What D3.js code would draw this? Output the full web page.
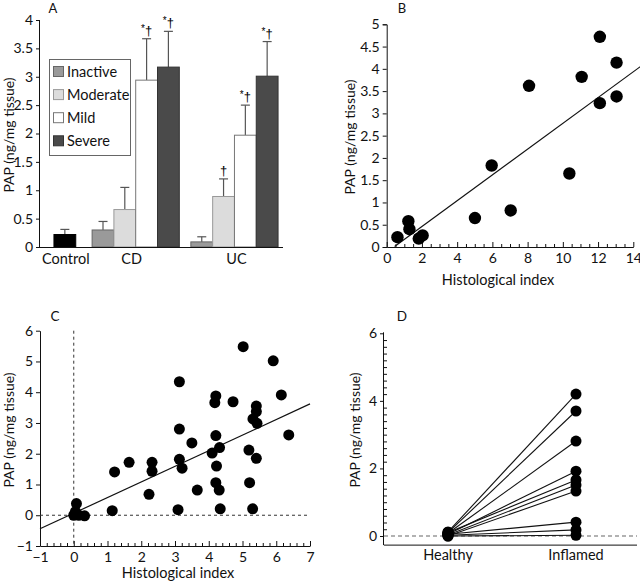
<!DOCTYPE html>
<html><head><meta charset="utf-8">
<script src="https://cdn.jsdelivr.net/npm/d3@7"></script>
<style>
body{margin:0;background:#fff;}
svg{display:block;font-family:Lato,"Open Sans",sans-serif;}
.axis text{font-size:14px;fill:#111;font-family:Lato,"Open Sans",sans-serif;}
.axis path,.axis line{stroke:#111;stroke-width:1;}
</style></head><body>
<svg id="c" width="640" height="582"></svg>
<script>
// ---------- data ----------
// Panel A
const aLevels = ["Inactive","Moderate","Mild","Severe"];
const aGroups = ["Control","CD","UC"];
const ctrlMean = [0.22];
const ctrlSem = [0.09];
const cdMean = [0.30, 0.66, 2.94, 3.17];
const cdSem  = [0.15, 0.39, 0.73, 0.63];
const ucMean = [0.09, 0.89, 1.97, 3.01];
const ucSem  = [0.09, 0.31, 0.53, 0.61];
const cdMarks = ["", "", "*†", "*†"];
const ucMarks = ["", "†", "*†", "*†"];
const aTicks = [0,0.5,1,1.5,2,2.5,3,3.5,4];
// Panel B
const bX = [0.61,1.23,1.29,1.82,2.04,5.01,5.96,7.04,8.08,10.37,11.07,12.1,12.1,13.05,13.05];
const bY = [0.22,0.58,0.40,0.19,0.26,0.65,1.83,0.82,3.62,1.65,3.82,4.72,3.23,4.14,3.38];
const bFitX = [0.45, 14.4];
const bFitY = [0.01, 4.05];
const bXTicks = [0,2,4,6,8,10,12,14];
const bYTicks = [0,0.5,1,1.5,2,2.5,3,3.5,4,4.5,5];
// Panel C
const cX = [0,0.05,0.15,0.32,0.08,1.14,1.21,1.64,2.23,2.32,2.32,3.09,3.13,3.13,3.13,3.21,3.50,3.66,4.10,4.21,4.21,4.18,4.23,4.21,4.31,4.32,4.34,4.72,5.02,5.19,5.21,5.30,5.31,5.41,5.41,5.43,5.41,5.91,6.15,6.37];
const cY = [0,0.12,0,-0.02,0.38,0.15,1.41,1.72,0.68,1.72,1.43,0.18,4.34,2.80,1.82,1.53,2.35,0.82,2.02,2.59,3.88,3.66,1.60,1.06,0.82,2.20,0.21,3.69,5.48,2.12,1.06,0.21,3.13,3.55,3.37,2.99,1.85,5.02,3.91,2.61];
const cFitX = [-1, 7];
const cFitY = [-0.44, 3.62];
const cXTicks = [-1,0,1,2,3,4,5,6,7];
const cYTicks = [-1,0,1,2,3,4,5,6];
// Panel D
const dCats = ["Healthy","Inflamed"];
const dHealthy  = [0.12,0.10,0.08,0.05,0.10,0.03,0.00,0.05,0.02,0.00];
const dInflamed = [4.20,3.70,2.81,1.92,1.66,1.51,1.33,0.41,0.18,0.02];
const dYTicks = [0,2,4,6];

const yTitle = "PAP (ng/mg tissue)";
const xTitle = "Histological index";

// ---------- drawing ----------
const svg = d3.select("#c");
const FONT = 14.5;

function label(x,y,t,anchor="middle",size=FONT){
  return svg.append("text").attr("x",x).attr("y",y).attr("text-anchor",anchor)
    .attr("font-size",size).attr("fill","#111").text(t);
}
function yLabel(x,y,t){
  svg.append("text").attr("transform",`translate(${x},${y}) rotate(-90)`)
    .attr("text-anchor","middle").attr("font-size",14).attr("fill","#111").text(t);
}
function range(a,b,s){const r=[];for(let v=a;v<=b+1e-9;v+=s)r.push(+v.toFixed(4));return r;}

// ===== Panel A =====
{
  const y = d3.scaleLinear().domain([0,4]).range([247,20]);
  const bw = 21.8;
  const x = d3.scaleLinear().domain([0,1]).range([40, 40+bw]); // bar-width units
  const fills = ["#9a9a9a","#dcdcdc","#ffffff","#4a4a4a"];
  const strokes = ["#666","#999","#777","#333"];
  const bars = [];
  bars.push({s:0.64, v:ctrlMean[0], e:ctrlSem[0], fill:"#000", stroke:"#000", m:""});
  cdMean.forEach((v,i)=>bars.push({s:2.39+i, v, e:cdSem[i], fill:fills[i], stroke:strokes[i], m:cdMarks[i]}));
  ucMean.forEach((v,i)=>bars.push({s:6.92+i, v, e:ucSem[i], fill:fills[i], stroke:strokes[i], m:ucMarks[i]}));
  const g = svg.append("g");
  bars.forEach(b=>{
    const cx = x(b.s+0.5);
    g.append("line").attr("x1",cx).attr("x2",cx).attr("y1",y(b.v)).attr("y2",y(b.v+b.e))
      .attr("stroke","#555").attr("stroke-width",1.2);
    g.append("line").attr("x1",cx-4.5).attr("x2",cx+4.5).attr("y1",y(b.v+b.e)).attr("y2",y(b.v+b.e))
      .attr("stroke","#555").attr("stroke-width",1.2);
    if(b.m){
      const t = g.append("text").attr("x",cx).attr("y",y(b.v+b.e)-4).attr("text-anchor","middle")
        .attr("font-size",13).attr("fill","#000").attr("font-family","'Liberation Sans',sans-serif");
      if(b.m.startsWith("*")){
        t.append("tspan").attr("font-size",10).attr("dy",-3).text("*");
        t.append("tspan").attr("dy",3).text("†");
      } else t.text(b.m);
    }
  });
  g.selectAll("rect.bar").data(bars).join("rect").attr("class","bar")
    .attr("x",d=>x(d.s)).attr("width",bw).attr("y",d=>y(d.v)).attr("height",d=>y(0)-y(d.v))
    .attr("fill",d=>d.fill).attr("stroke",d=>d.stroke).attr("stroke-width",1);
  const ay = svg.append("g").attr("class","axis").attr("transform","translate(40,0)")
    .call(d3.axisLeft(y).tickValues(aTicks).tickSize(4).tickPadding(3).tickFormat(d3.format("")));
  ay.select(".domain").attr("d",`M-0.5,${y(4)}V${y(0)}`);
  svg.append("line").attr("x1",40).attr("x2",283).attr("y1",y(0)+0.5).attr("y2",y(0)+0.5).attr("stroke","#111");
  const gx = [x(0.64+0.5)+1, x(2.39+2)-4, x(6.92+2)+2];
  aGroups.forEach((t,i)=>label(gx[i],264,t));
  yLabel(14,135,yTitle);
  label(53,13,"A","middle",13);
  svg.append("rect").attr("x",49.5).attr("y",59.5).attr("width",81).attr("height",96)
    .attr("fill","#fff").attr("stroke","#666");
  aLevels.forEach((t,i)=>{
    const ry = 66 + i*23.1;
    svg.append("rect").attr("x",53.5).attr("y",ry+0.5).attr("width",10).attr("height",10)
      .attr("fill",fills[i]).attr("stroke",strokes[i]);
    label(67,ry+10.5,t,"start",14.5);
  });
}

// ===== Panel B =====
{
  const x = d3.scaleLinear().domain([0,14]).range([386.7,633.3]);
  const y = d3.scaleLinear().domain([0,5]).range([247,24.3]);
  svg.append("g").attr("class","axis").attr("transform",`translate(0,${y(0)})`)
    .call(d3.axisBottom(x).tickValues(bXTicks).tickSizeInner(-5).tickSizeOuter(0).tickPadding(6));
  svg.append("g").attr("class","axis").attr("transform",`translate(0,${y(0)})`)
    .call(d3.axisBottom(x).tickValues(range(0,14,0.5).filter(v=>v%2)).tickSizeInner(-3).tickSizeOuter(0).tickFormat(""))
    .select(".domain").remove();
  svg.append("g").attr("class","axis").attr("transform",`translate(${x(0)},0)`)
    .call(d3.axisLeft(y).tickValues(bYTicks).tickSize(4).tickPadding(3).tickFormat(d3.format("")));
  svg.append("line").attr("x1",x(bFitX[0])).attr("y1",y(bFitY[0])).attr("x2",x(bFitX[1])).attr("y2",y(bFitY[1]))
    .attr("stroke","#111").attr("stroke-width",1.2);
  svg.append("g").selectAll("circle").data(bX).join("circle")
    .attr("cx",d=>x(d)).attr("cy",(d,i)=>y(bY[i])).attr("r",6.2).attr("fill","#000");
  label(498,285,xTitle);
  yLabel(355,137,yTitle);
  label(402,13,"B","middle",13);
}

// ===== Panel C =====
{
  const x = d3.scaleLinear().domain([-1,7]).range([40,310]);
  const y = d3.scaleLinear().domain([-1,6]).range([546,330.7]);
  svg.append("g").attr("class","axis").attr("transform",`translate(0,${y(-1)})`)
    .call(d3.axisBottom(x).tickValues(cXTicks).tickSizeInner(-5).tickSizeOuter(0).tickPadding(6).tickFormat(d3.format("")));
  svg.append("g").attr("class","axis").attr("transform",`translate(0,${y(-1)})`)
    .call(d3.axisBottom(x).tickValues(range(-1,7,0.2).filter(v=>Math.abs(v-Math.round(v))>1e-6)).tickSizeInner(-3).tickSizeOuter(0).tickFormat(""))
    .select(".domain").remove();
  svg.append("g").attr("class","axis").attr("transform",`translate(${x(-1)},0)`)
    .call(d3.axisLeft(y).tickValues(cYTicks).tickSize(4).tickSizeOuter(0).tickPadding(3).tickFormat(d3.format("")));
  svg.append("line").attr("x1",x(0)).attr("x2",x(0)).attr("y1",y(6)).attr("y2",y(-1))
    .attr("stroke","#333").attr("stroke-dasharray","3,3");
  svg.append("line").attr("x1",x(-1)).attr("x2",x(7)).attr("y1",y(0)).attr("y2",y(0))
    .attr("stroke","#333").attr("stroke-dasharray","3,3");
  svg.append("line").attr("x1",x(cFitX[0])).attr("y1",y(cFitY[0])).attr("x2",x(cFitX[1])).attr("y2",y(cFitY[1]))
    .attr("stroke","#111").attr("stroke-width",1.2);
  svg.append("g").selectAll("circle").data(cX).join("circle")
    .attr("cx",d=>x(d)).attr("cy",(d,i)=>y(cY[i])).attr("r",5.5).attr("fill","#000");
  label(178,578,xTitle);
  yLabel(14,430,yTitle);
  label(55,321,"C","middle",13.5);
}

// ===== Panel D =====
{
  const x = d3.scalePoint().domain(dCats).range([448,576]);
  const y = d3.scaleLinear().domain([0,6]).range([536,333.3]);
  const yBot = y(-0.27);
  svg.append("line").attr("x1",384).attr("x2",637).attr("y1",yBot).attr("y2",yBot).attr("stroke","#111");
  svg.append("g").attr("class","axis").attr("transform",`translate(384,0)`)
    .call(d3.axisLeft(y).tickValues(dYTicks).tickSize(4).tickSizeOuter(0).tickPadding(3).tickFormat(d3.format("")))
    .select(".domain").attr("d",`M-0.5,${y(6)-1}V${yBot}`);
  svg.append("g").attr("class","axis").attr("transform",`translate(384,0)`)
    .call(d3.axisRight(y).tickValues(range(0,6,0.2).filter(v=>Math.abs(v/2-Math.round(v/2))>1e-6)).tickSize(3).tickSizeOuter(0).tickFormat(""))
    .select(".domain").remove();
  svg.append("line").attr("x1",384).attr("x2",637).attr("y1",y(0)).attr("y2",y(0))
    .attr("stroke","#999").attr("stroke-width",1.5).attr("stroke-dasharray","4,3");
  const pairs = dHealthy.map((h,i)=>({h, f:dInflamed[i]}));
  svg.append("g").selectAll("line").data(pairs).join("line")
    .attr("x1",x("Healthy")).attr("y1",d=>y(d.h)).attr("x2",x("Inflamed")).attr("y2",d=>y(d.f))
    .attr("stroke","#111").attr("stroke-width",1.1);
  svg.append("g").selectAll("circle").data(dHealthy).join("circle")
    .attr("cx",x("Healthy")).attr("cy",d=>y(d)).attr("r",5.5).attr("fill","#000");
  svg.append("g").selectAll("circle").data(dInflamed).join("circle")
    .attr("cx",x("Inflamed")).attr("cy",d=>y(d)).attr("r",5.5).attr("fill","#000");
  dCats.forEach(c=>label(x(c),560,c));
  yLabel(360,430,yTitle);
  label(402,321,"D","middle",13.5);
}
</script></body></html>
